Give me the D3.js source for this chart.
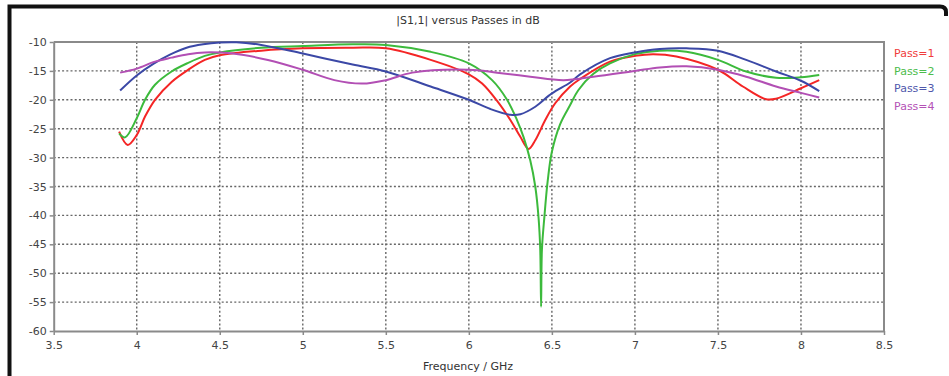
<!DOCTYPE html>
<html>
<head>
<meta charset="utf-8">
<script src="https://cdn.jsdelivr.net/npm/d3@7"></script>
<style>
  html, body { margin: 0; padding: 0; background: #fff; }
  svg { display: block; }
</style>
</head>
<body>
<svg id="chart" width="949" height="376"></svg>
<script>
// ---- data ----
const title = "|S1,1| versus Passes in dB";
const xLabel = "Frequency / GHz";
const xTicks = [3.5, 4, 4.5, 5, 5.5, 6, 6.5, 7, 7.5, 8, 8.5];
const yTicks = [-10, -15, -20, -25, -30, -35, -40, -45, -50, -55, -60];
const seriesNames = ["Pass=1", "Pass=2", "Pass=3", "Pass=4"];
const seriesColors = ["#f42525", "#3cba3c", "#3b48a6", "#b24fb4"];
const legendColors = ["#f03c3c", "#4cbc4c", "#5058ac", "#b452b6"];

const pass1Freq = [3.894, 3.946, 4.0, 4.05, 4.11, 4.21, 4.31, 4.41, 4.5, 4.75, 5.0, 5.3, 5.5, 5.77, 6.0, 6.08, 6.17, 6.25, 6.31, 6.36, 6.40, 6.46, 6.52, 6.61, 6.67, 6.85, 7.0, 7.11, 7.25, 7.5, 7.65, 7.79, 7.85, 8.0, 8.11];
const pass1dB  = [-25.5, -27.8, -26.1, -22.9, -20.0, -16.9, -14.8, -13.1, -12.3, -11.5, -11.1, -11.0, -11.1, -13.1, -15.6, -17.2, -20.2, -23.5, -26.4, -28.5, -27.0, -23.5, -20.6, -17.7, -16.4, -13.4, -12.4, -12.1, -12.5, -14.8, -17.7, -19.9, -19.8, -18.0, -16.6];

const pass2Freq = [3.894, 3.93, 4.0, 4.05, 4.11, 4.21, 4.31, 4.41, 4.5, 4.75, 5.0, 5.3, 5.5, 5.77, 6.0, 6.14, 6.23, 6.29, 6.33, 6.37, 6.40, 6.42, 6.43, 6.435, 6.44, 6.455, 6.475, 6.50, 6.55, 6.61, 6.66, 6.75, 6.85, 7.0, 7.15, 7.31, 7.5, 7.67, 7.85, 8.0, 8.11];
const pass2dB  = [-25.8, -26.5, -23.2, -20.0, -17.4, -15.1, -13.6, -12.4, -11.8, -11.0, -10.7, -10.4, -10.5, -11.7, -13.7, -16.6, -20.0, -23.5, -26.5, -30.5, -35.0, -40.5, -46.0, -55.8, -46.0, -40.2, -34.0, -29.0, -24.2, -20.9, -18.3, -15.5, -13.7, -12.1, -11.5, -11.7, -13.1, -15.1, -16.2, -16.1, -15.7];

const pass3Freq = [3.90, 4.0, 4.1, 4.2, 4.3, 4.4, 4.5, 4.6, 4.75, 5.0, 5.3, 5.5, 5.77, 6.0, 6.13, 6.25, 6.31, 6.40, 6.50, 6.61, 6.67, 6.85, 7.0, 7.15, 7.31, 7.5, 7.67, 7.85, 8.0, 8.11];
const pass3dB  = [-18.4, -15.8, -13.8, -12.2, -11.0, -10.4, -10.1, -10.05, -10.5, -12.0, -13.9, -15.1, -17.7, -20.0, -21.6, -22.6, -22.5, -21.2, -18.9, -17.0, -15.6, -12.8, -11.8, -11.2, -11.1, -11.5, -13.1, -15.1, -16.7, -18.5];

const pass4Freq = [3.90, 4.0, 4.11, 4.21, 4.31, 4.41, 4.58, 4.79, 5.0, 5.19, 5.36, 5.5, 5.66, 6.0, 6.17, 6.37, 6.57, 6.75, 7.0, 7.15, 7.31, 7.5, 7.67, 7.85, 8.0, 8.11];
const pass4dB  = [-15.3, -14.6, -13.4, -12.7, -12.1, -11.8, -12.0, -13.1, -14.8, -16.6, -17.2, -16.6, -15.3, -14.8, -15.3, -16.0, -16.6, -16.0, -15.0, -14.4, -14.2, -14.8, -16.0, -17.7, -18.8, -19.6];

const seriesFreq = [pass1Freq, pass2Freq, pass3Freq, pass4Freq];
const seriesdB = [pass1dB, pass2dB, pass3dB, pass4dB];

// ---- layout ----
const W = 949, H = 376;
const plot = { left: 53.7, right: 884, top: 42, bottom: 331 };
const font = "'DejaVu Sans', sans-serif";

const svg = d3.select("#chart");
const x = d3.scaleLinear().domain([3.5, 8.5]).range([plot.left, plot.right]);
const y = d3.scaleLinear().domain([-60, -10]).range([plot.bottom, plot.top]);

// outer black frame (left and top edges)
svg.append("path")
  .attr("d", `M9.5,${H} L9.5,6.5 L940,6.5 Q946,6.5 946,12 L946,16`)
  .attr("fill", "none").attr("stroke", "#111").attr("stroke-width", 4);

// title
svg.append("text")
  .attr("x", 468).attr("y", 24)
  .attr("text-anchor", "middle")
  .attr("font-family", font).attr("font-size", 11)
  .attr("fill", "#333").text(title);

// grid
const grid = svg.append("g");
grid.selectAll("line.h").data(yTicks.filter(v => v !== -10 && v !== -60)).enter()
  .append("line")
  .attr("x1", plot.left).attr("x2", plot.right)
  .attr("y1", d => y(d)).attr("y2", d => y(d))
  .attr("stroke", "#666").attr("stroke-width", 1.4).attr("stroke-dasharray", "2,2.2");
grid.selectAll("line.v").data(xTicks.filter(v => v !== 3.5 && v !== 8.5)).enter()
  .append("line")
  .attr("y1", plot.top).attr("y2", plot.bottom)
  .attr("x1", d => x(d)).attr("x2", d => x(d))
  .attr("stroke", "#666").attr("stroke-width", 1.4).attr("stroke-dasharray", "2,2.2");

// frame (top and right)
svg.append("path")
  .attr("d", `M${plot.left},${plot.top} H${plot.right} V${plot.bottom}`)
  .attr("fill", "none").attr("stroke", "#8a8a8a").attr("stroke-width", 2);

// axes
const fmt = d => String(d);
const yAxis = svg.append("g")
  .attr("transform", `translate(${plot.left},0)`)
  .call(d3.axisLeft(y).tickValues(yTicks).tickFormat(fmt).tickSize(4).tickSizeOuter(0).tickPadding(3));
const xAxis = svg.append("g")
  .attr("transform", `translate(0,${plot.bottom})`)
  .call(d3.axisBottom(x).tickValues(xTicks).tickFormat(fmt).tickSize(4).tickSizeOuter(0).tickPadding(6));
[yAxis, xAxis].forEach(a => {
  a.select(".domain").attr("stroke", "#8a8a8a").attr("stroke-width", 2);
  a.selectAll(".tick line").attr("stroke", "#8a8a8a").attr("stroke-width", 1.5);
  a.selectAll(".tick text").attr("font-family", font).attr("font-size", 11).attr("fill", "#444");
});

// x label
svg.append("text")
  .attr("x", 468).attr("y", 370)
  .attr("text-anchor", "middle")
  .attr("font-family", font).attr("font-size", 11)
  .attr("fill", "#333").text(xLabel);

// curves
const line = d3.line()
  .x(d => x(d[0])).y(d => y(d[1]))
  .curve(d3.curveCatmullRom.alpha(0.5));
const curves = svg.append("g");
seriesNames.forEach((name, i) => {
  const pts = seriesFreq[i].map((f, j) => [f, seriesdB[i][j]]);
  curves.append("path")
    .datum(pts)
    .attr("d", line)
    .attr("fill", "none")
    .attr("stroke", seriesColors[i])
    .attr("stroke-width", 2)
    .attr("stroke-linejoin", "round");
});

// legend
const legend = svg.append("g");
seriesNames.forEach((name, i) => {
  legend.append("text")
    .attr("x", 894).attr("y", 57 + i * 17.6)
    .attr("font-family", font).attr("font-size", 11)
    .attr("fill", legendColors[i]).text(name);
});
</script>
</body>
</html>
